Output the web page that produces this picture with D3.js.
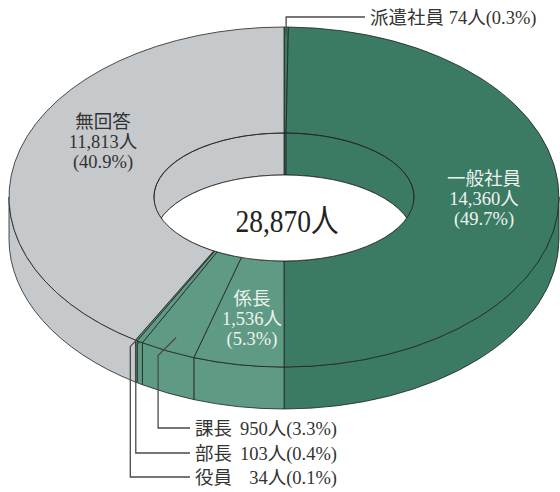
<!DOCTYPE html>
<html>
<head>
<meta charset="utf-8">
<script src="https://cdn.jsdelivr.net/npm/d3@7"></script>
<style>
  body { margin: 0; background: #fff; }
  svg { display: block; }
  text { font-family: "Liberation Serif", "Noto Sans CJK JP", serif; }
</style>
</head>
<body>
<div id="chart"></div>
<script>
// Data (clockwise from 12 o'clock)
const categories = ["派遣社員", "一般社員", "係長", "課長", "部長", "役員", "無回答"];
const counts = [74, 14360, 1536, 950, 103, 34, 11813];
const unit = "人";

// which slices get a label inside, which get a callout
const insideLabels = ["一般社員", "無回答", "係長"];
const calloutLabels = ["派遣社員", "課長", "部長", "役員"];

const palette = ["#3b7b63", "#3b7b63", "#5e9a84", "#5e9a84", "#5e9a84", "#5e9a84", "#c6c9cc"];

// Dimensions
const dims = {
  width: 560,
  height: 492,
  cx: 284,
  cy: 197,
  rx: 275,
  ry: 170,
  irx: 130,
  iry: 64,
  depth: 42
};

const rows = categories.map((c, i) => ({ name: c, value: counts[i] }));
const total = d3.sum(counts);
const fmtNum = d3.format(",");
const fmtPct = v => d3.format(".1f")(v / total * 100) + "%";

const color = d3.scaleOrdinal().domain(categories).range(palette);

// t = 0 inner rim, t = 1 outer rim
const rxScale = d3.scaleLinear().domain([0, 1]).range([dims.irx, dims.rx]);
const ryScale = d3.scaleLinear().domain([0, 1]).range([dims.iry, dims.ry]);
const pt = (a, t) => [dims.cx + rxScale(t) * Math.sin(a), dims.cy - ryScale(t) * Math.cos(a)];

const pie = d3.pie().sort(null).value(d => d.value);
const arcs = pie(rows);

const svg = d3.select("#chart")
  .append("svg")
  .attr("width", dims.width)
  .attr("height", dims.height);

const stroke = "#222";
const sw = 0.8;

function topPath(d) {
  const a0 = d.startAngle, a1 = d.endAngle;
  const [ox0, oy0] = pt(a0, 1), [ox1, oy1] = pt(a1, 1);
  const [ix0, iy0] = pt(a0, 0), [ix1, iy1] = pt(a1, 0);
  const lg = a1 - a0 > Math.PI ? 1 : 0;
  return `M${ox0},${oy0}A${dims.rx},${dims.ry} 0 ${lg} 1 ${ox1},${oy1}` +
    `L${ix1},${iy1}A${dims.irx},${dims.iry} 0 ${lg} 0 ${ix0},${iy0}Z`;
}

function wallPath(b0, b1, t) {
  const [x0, y0] = pt(b0, t), [x1, y1] = pt(b1, t);
  const r = rxScale(t), s = ryScale(t), h = dims.depth;
  return `M${x0},${y0}A${r},${s} 0 0 1 ${x1},${y1}` +
    `L${x1},${y1 + h}A${r},${s} 0 0 0 ${x0},${y0 + h}Z`;
}

function clipRange(d, lo, hi) {
  const b0 = Math.max(d.startAngle, lo), b1 = Math.min(d.endAngle, hi);
  return b1 > b0 ? [b0, b1] : null;
}

// Outer side wall (front half)
const outerWalls = arcs
  .map(d => ({ d, r: clipRange(d, Math.PI / 2, Math.PI * 1.5) }))
  .filter(o => o.r);

svg.append("g").selectAll("path")
  .data(outerWalls)
  .join("path")
  .attr("d", o => wallPath(o.r[0], o.r[1], 1))
  .attr("fill", o => color(o.d.data.name))
  .attr("stroke", stroke)
  .attr("stroke-width", sw)
  .attr("stroke-linejoin", "round");

// Top surface
svg.append("g").selectAll("path")
  .data(arcs)
  .join("path")
  .attr("d", topPath)
  .attr("fill", d => color(d.data.name))
  .attr("stroke", stroke)
  .attr("stroke-width", sw)
  .attr("stroke-linejoin", "round");

// Hole: far inner wall, then see-through bottom
svg.append("clipPath").attr("id", "hole")
  .append("ellipse")
  .attr("cx", dims.cx).attr("cy", dims.cy)
  .attr("rx", dims.irx).attr("ry", dims.iry);

const hole = svg.append("g").attr("clip-path", "url(#hole)");

const innerWalls = [];
arcs.forEach(d => {
  [[0, Math.PI / 2], [Math.PI * 1.5, Math.PI * 2]].forEach(([lo, hi]) => {
    const r = clipRange(d, lo, hi);
    if (r) innerWalls.push({ d, r });
  });
});

hole.selectAll("path")
  .data(innerWalls)
  .join("path")
  .attr("d", o => wallPath(o.r[0], o.r[1], 0))
  .attr("fill", o => color(o.d.data.name))
  .attr("stroke", stroke)
  .attr("stroke-width", sw);

hole.append("ellipse")
  .attr("cx", dims.cx).attr("cy", dims.cy + dims.depth)
  .attr("rx", dims.irx).attr("ry", dims.iry)
  .attr("fill", "#fff")
  .attr("stroke", stroke)
  .attr("stroke-width", sw);

svg.append("ellipse")
  .attr("cx", dims.cx).attr("cy", dims.cy)
  .attr("rx", dims.irx).attr("ry", dims.iry)
  .attr("fill", "none")
  .attr("stroke", stroke)
  .attr("stroke-width", sw);

// Total in the middle
svg.append("text")
  .attr("transform", `translate(${dims.cx + 3},${dims.cy + 35}) scale(0.86,1)`)
  .attr("text-anchor", "middle")
  .attr("font-size", 32)
  .attr("fill", "#222")
  .text(fmtNum(total) + unit);

// Labels inside slices
const labelPos = {
  "一般社員": [484, 185],
  "無回答": [103, 128],
  "係長": [252, 305]
};
const labelInk = { "一般社員": "#eef3f0", "係長": "#eef3f0", "無回答": "#333" };

insideLabels.forEach(name => {
  const v = counts[categories.indexOf(name)];
  const lines = [name, fmtNum(v) + unit, `(${fmtPct(v)})`];
  const [x, y] = labelPos[name];
  svg.append("text")
    .attr("text-anchor", "middle")
    .attr("font-size", 18.5)
    .attr("fill", labelInk[name])
    .selectAll("tspan")
    .data(lines)
    .join("tspan")
    .attr("x", x)
    .attr("y", (d, i) => y + i * 20)
    .text(d => d);
});

// Callouts
const callout = {
  "派遣社員": { t: 0.92, elbow: [0, 0], lineY: 17 },
  "課長": { t: 0.86, elbow: [-18, 18], lineY: 428 },
  "部長": { t: 1, elbow: [-4, 4], lineY: 453 },
  "役員": { t: 1, elbow: [-6, 6], lineY: 477 }
};

const leader = svg.append("g")
  .attr("fill", "none")
  .attr("stroke", "#4a4a4a")
  .attr("stroke-width", 1.3);

calloutLabels.forEach(name => {
  const d = arcs[categories.indexOf(name)];
  const c = callout[name];
  const mid = (d.startAngle + d.endAngle) / 2;
  const [ax, ay] = pt(mid, c.t);
  const ex = ax + c.elbow[0], ey = ay + c.elbow[1];
  const top = c.lineY < dims.cy;
  const endX = top ? 365 : 190;
  leader.append("path")
    .attr("d", d3.line()([[ax, ay], [ex, ey], [ex, c.lineY], [endX, c.lineY]]));

  const v = d.data.value;
  if (top) {
    svg.append("text")
      .attr("x", 370)
      .attr("y", c.lineY + 7)
      .attr("font-size", 18.5)
      .attr("fill", "#333")
      .text(`${name} ${v}${unit}(${fmtPct(v)})`);
  } else {
    svg.append("text")
      .attr("x", 195)
      .attr("y", c.lineY + 7)
      .attr("font-size", 18.5)
      .attr("fill", "#333")
      .text(name);
    svg.append("text")
      .attr("x", 337)
      .attr("y", c.lineY + 7)
      .attr("text-anchor", "end")
      .attr("font-size", 18.5)
      .attr("fill", "#333")
      .text(`${fmtNum(v)}${unit}(${fmtPct(v)})`);
  }
});
</script>
</body>
</html>
